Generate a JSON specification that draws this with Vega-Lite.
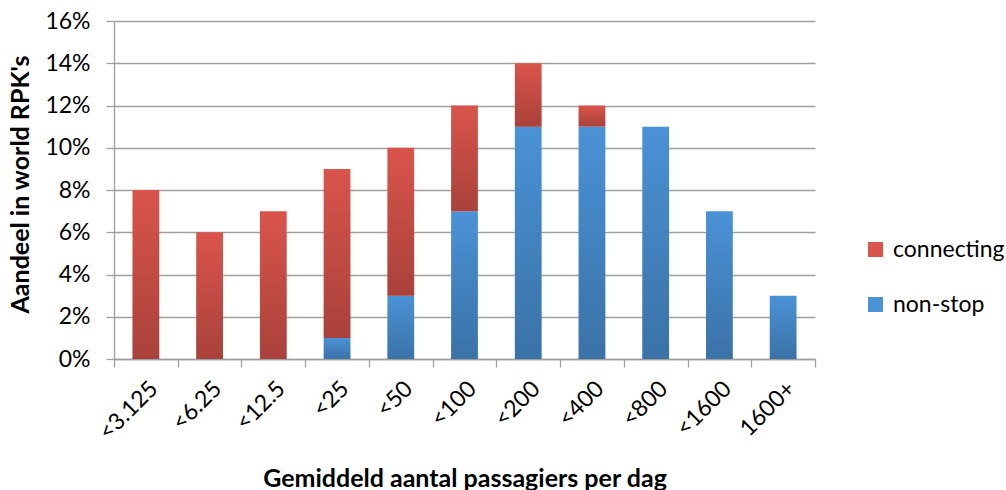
{
  "$schema": "https://vega.github.io/schema/vega-lite/v6.json",
  "width": 701,
  "height": 338,
  "autosize": {"type": "none"},
  "padding": {"left": 114, "top": 21, "right": 191, "bottom": 131},
  "background": "white",
  "config": {
    "font": "Lato",
    "view": {"stroke": null},
    "axis": {
      "labelFont": "Lato",
      "titleFont": "Lato",
      "labelColor": "#000000",
      "titleColor": "#000000",
      "domainColor": "#9e9e9e",
      "tickColor": "#9e9e9e",
      "gridColor": "#9e9e9e",
      "domainWidth": 1.3,
      "tickWidth": 1.3,
      "gridWidth": 1.3
    }
  },
  "data": {
    "values": [
      {"cat": "<3.125", "series": "non-stop", "value": 0},
      {"cat": "<3.125", "series": "connecting", "value": 8},
      {"cat": "<6.25", "series": "non-stop", "value": 0},
      {"cat": "<6.25", "series": "connecting", "value": 6},
      {"cat": "<12.5", "series": "non-stop", "value": 0},
      {"cat": "<12.5", "series": "connecting", "value": 7},
      {"cat": "<25", "series": "non-stop", "value": 1},
      {"cat": "<25", "series": "connecting", "value": 8},
      {"cat": "<50", "series": "non-stop", "value": 3},
      {"cat": "<50", "series": "connecting", "value": 7},
      {"cat": "<100", "series": "non-stop", "value": 7},
      {"cat": "<100", "series": "connecting", "value": 5},
      {"cat": "<200", "series": "non-stop", "value": 11},
      {"cat": "<200", "series": "connecting", "value": 3},
      {"cat": "<400", "series": "non-stop", "value": 11},
      {"cat": "<400", "series": "connecting", "value": 1},
      {"cat": "<800", "series": "non-stop", "value": 11},
      {"cat": "<800", "series": "connecting", "value": 0},
      {"cat": "<1600", "series": "non-stop", "value": 7},
      {"cat": "<1600", "series": "connecting", "value": 0},
      {"cat": "1600+", "series": "non-stop", "value": 3},
      {"cat": "1600+", "series": "connecting", "value": 0}
    ]
  },
  "transform": [
    {"stack": "value", "groupby": ["cat"], "sort": [{"field": "series", "order": "descending"}], "as": ["y0", "y1"]},
    {"filter": "datum.value > 0"}
  ],
  "encoding": {
    "x": {
      "field": "cat",
      "type": "nominal",
      "sort": null,
      "scale": {"paddingInner": 0, "paddingOuter": 0},
      "axis": {
        "title": "Gemiddeld aantal passagiers per dag",
        "titleFontSize": 25,
        "titleFontWeight": "bold",
        "titleY": 119,
        "titleBaseline": "middle",
        "labelAngle": -45,
        "labelFontSize": 23,
        "labelPadding": 10,
        "tickSize": 8,
        "tickBand": "extent",
        "grid": false
      }
    },
    "y": {
      "field": "y1",
      "type": "quantitative",
      "scale": {"domain": [0, 16], "nice": false},
      "axis": {
        "values": [0, 2, 4, 6, 8, 10, 12, 14, 16],
        "labelExpr": "datum.value + '%'",
        "labelFontSize": 23,
        "labelPadding": 16,
        "tickSize": 8,
        "grid": true,
        "title": "Aandeel in world RPK's",
        "titleFontSize": 25,
        "titleFontWeight": "bold",
        "titleX": -94,
        "titleY": 163,
        "titleBaseline": "middle",
        "titleAlign": "center",
        "titleAngle": -90
      }
    },
    "y2": {"field": "y0"}
  },
  "layer": [
    {
      "mark": {"type": "bar", "width": {"band": 0.42}},
      "encoding": {
        "color": {
          "field": "series",
          "type": "nominal",
          "scale": {"domain": ["connecting", "non-stop"], "range": ["#d9544b", "#4a92d6"]},
          "legend": {
            "title": null,
            "orient": "none",
            "legendX": 750,
            "legendY": 217,
            "symbolType": "square",
            "symbolSize": 225,
            "symbolStrokeWidth": 0,
            "labelFontSize": 23,
            "labelFont": "Lato",
            "labelColor": "#000000",
            "labelOffset": 6,
            "rowPadding": 31
          }
        }
      }
    },
    {
      "mark": {
        "type": "bar",
        "width": {"band": 0.42},
        "fill": {
          "gradient": "linear",
          "x1": 0, "y1": 0, "x2": 0, "y2": 1,
          "stops": [
            {"offset": 0, "color": "rgba(0,0,0,0)"},
            {"offset": 1, "color": "rgba(0,0,0,0.22)"}
          ]
        }
      }
    }
  ]
}
